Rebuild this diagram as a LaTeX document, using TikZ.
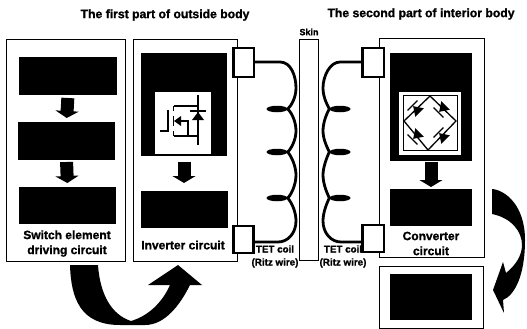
\documentclass[tikz,border=0pt]{standalone}
\usepackage{fontspec}
\setmainfont{Liberation Sans}[BoldFeatures={FakeBold=1.2}]
\usetikzlibrary{arrows.meta,shapes.geometric}
\tikzset{
  panel/.style={draw=black,line width=1pt,fill=white,inner sep=0pt,outer sep=0pt},
  block/.style={fill=black,inner sep=0pt,outer sep=0pt},
  port/.style={draw=black,line width=2.4pt,fill=white,inner sep=0pt,outer sep=0pt},
  flow/.style={line width=13pt,-{Triangle[length=7pt,width=23pt]}},
  wire/.style={line width=2.8pt},
  lens/.style={fill=black,ellipse,minimum width=21pt,minimum height=6.5pt,inner sep=0pt},
  head/.style={font=\bfseries\fontsize{12.2}{14}\selectfont,inner sep=0pt,align=center},
  lab/.style={font=\bfseries\fontsize{12}{15}\selectfont,inner sep=0pt,align=center},
  tiny/.style={font=\bfseries\fontsize{9.8}{13}\selectfont,inner sep=0pt,align=center},
  sym/.style={line width=1.3pt}
}
% \bx{style}{name}{x1}{y1}{x2}{y2}
\newcommand{\bx}[6]{%
  \pgfmathsetmacro{\bxw}{#5-#3}\pgfmathsetmacro{\bxh}{#6-#4}%
  \pgfmathsetmacro{\bxc}{(#5+#3)/2}\pgfmathsetmacro{\bxd}{(#6+#4)/2}%
  \node[#1,minimum width=\bxw pt,minimum height=\bxh pt] (#2) at (\bxc,\bxd) {};}
\begin{document}
\begin{tikzpicture}[x=1pt,y=-1pt]
\useasboundingbox[fill=white] (0,0) rectangle (527,329);
% panels
\bx{panel}{p1}{6.5}{40}{125}{261}
\bx{panel}{p2}{133}{40}{237}{261}
\bx{panel}{skin}{299.5}{40}{318}{260}
\bx{panel}{p3}{379}{39}{484}{257}
\bx{panel}{p4}{379}{266}{483}{328.5}
% blocks
\bx{block}{a1}{19}{57}{117}{95}
\bx{block}{a2}{18}{122}{115}{160}
\bx{block}{a3}{19}{187}{116}{224}
\bx{block}{b1}{141}{53}{227}{156}
\bx{block}{b2}{141}{191}{228}{228}
\bx{block}{c1}{390}{53}{472}{161}
\bx{block}{c2}{390}{189}{472}{226}
\bx{block}{d1}{390}{274}{472}{320}
% flow arrows
\draw[flow,shorten <=3pt,shorten >=4pt] (a1.south) -- (a2.north);
\draw[flow,shorten <=2pt,shorten >=4pt] (a2.south) -- (a3.north);
\draw[flow,shorten <=6pt,shorten >=8pt] (b1.south) -- (b1.south |- b2.north);
\draw[flow,shorten <=1pt,shorten >=2pt] (c1.south) -- (c1.south |- c2.north);
% MOSFET window
\bx{block,fill=white}{mw}{155}{92}{211}{153.5}
\coordinate (g1) at (160,131); \coordinate (g2) at (168,131); \coordinate (g3) at (168,110);
\draw[sym] (g1) -- (g2) -- (g3);
\draw[sym] (173.5,106) -- (173.5,111) (173.5,116) -- (173.5,126) (173.5,131) -- (173.5,136);
\draw[sym] (174,106) -- (198,106) (174,136) -- (198,136);
\draw[sym] (198,95) -- (198,145);
\draw[sym] (180,121) -- (188,121) -- (188,136);
\fill (174,121) -- (181,116) -- (181,126) -- cycle;
\fill (192,120) -- (204,120) -- (198,112) -- cycle;
\draw[sym] (190,111) -- (206,111);
% bridge window
\bx{block,fill=white}{bw}{399}{92}{461}{155}
\bx{panel,fill=white}{bi}{403}{95.5}{457}{150}
\coordinate (dt) at (430,96); \coordinate (dl) at (404,121); \coordinate (dr) at (456,121); \coordinate (db) at (428,150);
\draw[sym] (dt) -- (dl) -- (db) -- (dr) -- cycle;
\foreach \cx/\cy/\r in {416/109/45,442/109/135,416/136/135,442/136/45}{
  \fill[rotate around={\r:(\cx,\cy)}] (\cx-6,\cy+5) -- (\cx+6,\cy+5) -- (\cx,\cy-4) -- cycle;
  \draw[sym,rotate around={\r:(\cx,\cy)}] (\cx-7,\cy-5) -- (\cx+7,\cy-5);
}
% ports
\bx{port}{s1}{233.5}{48}{254}{77}
\bx{port}{s2}{233.5}{226}{253.5}{253}
\bx{port}{s3}{362.5}{48}{384}{77}
\bx{port}{s4}{362.5}{225}{384}{252}
% coils
\node[lens] (l1) at (277,109) {};
\node[lens] (l2) at (277,152) {};
\node[lens] (l3) at (277,198) {};
\node[lens] (r1) at (340,109) {};
\node[lens] (r2) at (340,152) {};
\node[lens] (r3) at (340,198) {};
\draw[wire] (s1.east |- 0,62) -- (280,62) .. controls (291,62) and (296,76) .. (296,88)
  .. controls (296,98) and (291,106) .. (l1.east)
  .. controls (292,113) and (296,122) .. (296,131)
  .. controls (296,140) and (291,149) .. (l2.east)
  .. controls (292,157) and (296,167) .. (296,175)
  .. controls (296,185) and (291,195) .. (l3.east)
  .. controls (292,203) and (296,212) .. (296,221)
  .. controls (296,233) and (288,242) .. (278,242) -- (s2.east |- 0,242);
\draw[wire] (s3.west |- 0,62) -- (340,62) .. controls (330,62) and (323,76) .. (323,88)
  .. controls (323,98) and (328,106) .. (r1.west)
  .. controls (327,113) and (323,122) .. (323,131)
  .. controls (323,140) and (328,149) .. (r2.west)
  .. controls (327,157) and (323,167) .. (323,175)
  .. controls (323,185) and (328,195) .. (r3.west)
  .. controls (327,203) and (323,212) .. (323,221)
  .. controls (323,233) and (331,242) .. (341,242) -- (s4.west |- 0,242);
% big curved arrows
\fill (70,265) .. controls (71,298) and (80,325) .. (120,325) -- (145,325)
  .. controls (165,325) and (180,305) .. (190,285) -- (202,285) -- (178,265) -- (148,285) -- (170,285)
  .. controls (162,303) and (148,316) .. (131,321)
  .. controls (112,315) and (100,295) .. (98,265) -- cycle;
\fill (492,189) .. controls (505,190) and (525,205) .. (525,240)
  .. controls (525,275) and (515,295) .. (503,300) -- (504,313) -- (493,290) -- (503,262) -- (506,273)
  .. controls (516,265) and (522,255) .. (522,245)
  .. controls (522,232) and (512,218) .. (492,214) -- cycle;
% texts
\node[head] (t1) at (165,15) {The first part of outside body};
\node[head] (t2) at (421,14) {The second part of interior body};
\node[tiny,font=\bfseries\fontsize{9}{11}\selectfont] (t3) at (309,32) {Skin};
\node[lab] (t4) at (67,243.5) {Switch element\\driving circuit};
\node[lab] (t5) at (183,245) {Inverter circuit};
\node[lab] (t6) at (431,243.5) {Converter\\circuit};
\node[tiny] (t7) at (275,256.5) {TET coil\\(Ritz wire)};
\node[tiny] (t8) at (343,256.5) {TET coil\\(Ritz wire)};
\end{tikzpicture}
\end{document}
